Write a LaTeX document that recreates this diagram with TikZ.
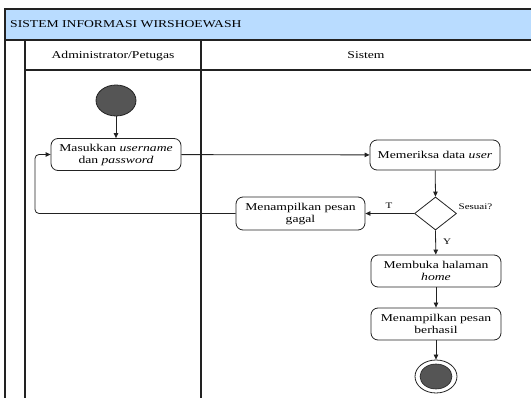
\documentclass[tikz,border=0pt]{standalone}
\usepackage{fontspec}
\setmainfont{Liberation Serif}[FakeStretch=1.3]
\usetikzlibrary{arrows.meta,shapes.geometric}
\definecolor{hdr}{HTML}{B9DCFF}
\definecolor{dot}{HTML}{555555}
\definecolor{ln}{HTML}{222222}
\begin{document}
\begin{tikzpicture}[x=1pt,y=-1pt,
  act/.style={draw=ln, line width=0.8pt, rounded corners=7pt, minimum width=130pt, minimum height=32pt, align=center, font=\fontsize{10.5}{12}\selectfont, inner sep=1pt},
  flow/.style={draw=ln, line width=0.8pt, -{Triangle[length=5pt,width=4.5pt]}},
  lane/.style={draw=ln, line width=1.2pt},
  hd/.style={font=\fontsize{10.5}{12}\selectfont, inner sep=0pt},
  lbl/.style={font=\fontsize{8.5}{10}\selectfont, inner sep=0pt}]
\useasboundingbox (0,0) rectangle (531,398);
% swimlane frame
\fill[hdr] (5,9) rectangle (531,40);
\draw[lane] (531,9) -- (5,9) -- (5,398);
\draw[lane] (5,40) -- (531,40);
\draw[lane] (25,70) -- (531,70);
\draw[lane] (25,40) -- (25,398);
\draw[lane] (201,40) -- (201,398);
\node[hd, anchor=west] (title) at (10,24.5) {SISTEM INFORMASI WIRSHOEWASH};
\node[hd] (lane1) at (113,55.5) {Administrator/Petugas};
\node[hd] (lane2) at (366,55.5) {Sistem};
% nodes
\node[ellipse, fill=dot, draw=ln, line width=0.8pt, minimum width=40pt, minimum height=31pt, inner sep=0pt] (start) at (116,100.5) {};
\node[act] (login) at (116,154.5) {Masukkan \textit{username}\\dan \textit{password}};
\node[act, minimum height=30pt] (cek) at (435,155) {Memeriksa data \textit{user}};
\node[diamond, draw=ln, line width=0.8pt, minimum width=42pt, minimum height=33pt, inner sep=0pt, aspect=1.3] (dec) at (435.5,213.5) {};
\node[act, minimum width=129pt, minimum height=33pt] (gagal) at (300.5,213.5) {Menampilkan pesan\\gagal};
\node[act] (home) at (436,271) {Membuka halaman\\\textit{home}};
\node[act] (ok) at (436,324) {Menampilkan pesan\\berhasil};
\node[ellipse, draw=ln, line width=0.8pt, minimum width=42pt, minimum height=33pt, inner sep=0pt] (end) at (436,376.5) {};
\node[ellipse, fill=dot, draw=ln, line width=0.6pt, minimum width=32pt, minimum height=25pt, inner sep=0pt] (endin) at (end.center) {};
% labels
\node[lbl] (sesuai) at (475.5,207) {Sesuai?};
\node[lbl] (tlbl) at (389,206) {T};
\node[lbl] (ylbl) at (447,242) {Y};
% connectors
\draw[flow] (start) -- (login);
\draw[flow] (login) -- (cek);
\draw[flow] (cek) -- (dec.north);
\draw[flow] (dec.west) -- (gagal);
\draw[flow, rounded corners=4pt] (gagal.west) -- (35,213.5) -- (35,154.5) -- (login.west);
\draw[flow] (dec.south) -- (home);
\draw[flow] (home) -- (ok);
\draw[flow] (ok) -- (end);
\end{tikzpicture}
\end{document}
